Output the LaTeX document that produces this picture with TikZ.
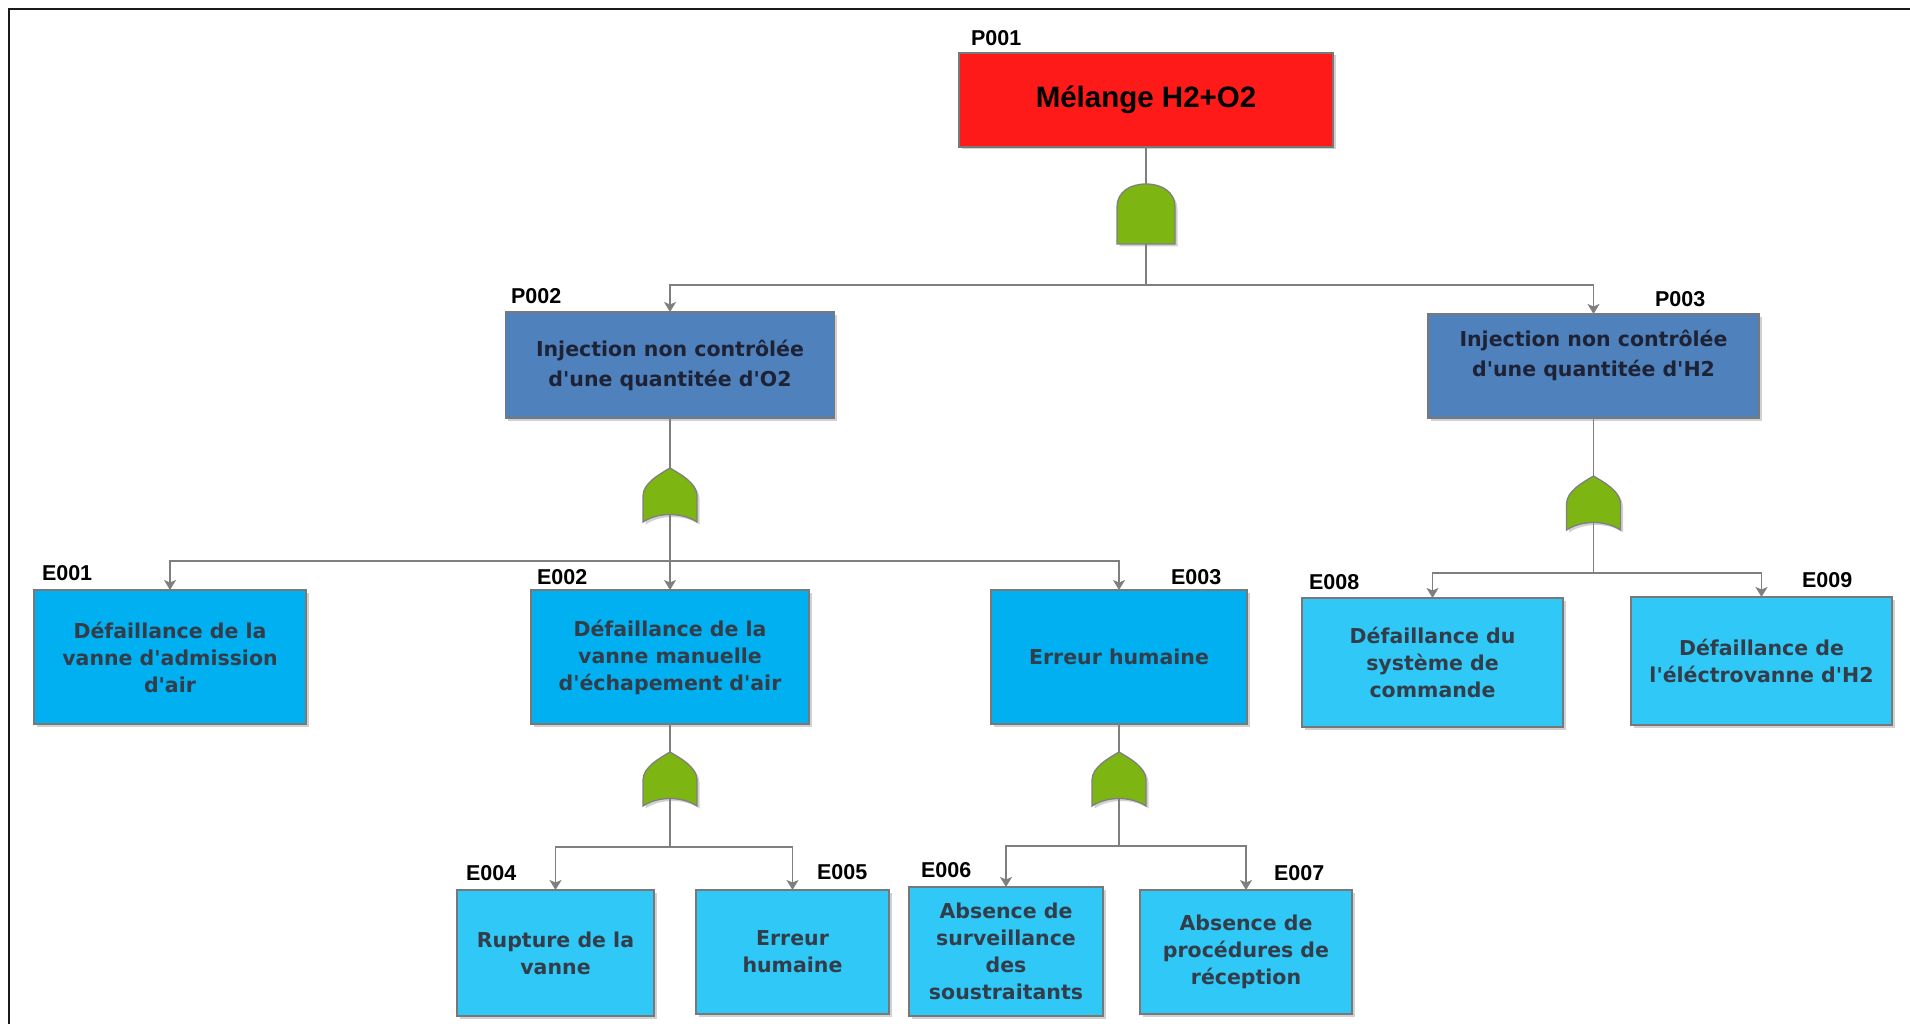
\documentclass[tikz,border=0pt]{standalone}
\usepackage{fontspec}
\usetikzlibrary{arrows.meta,shadows}

\newfontfamily\boxfont{DejaVu Sans}
\newfontfamily\arialfont{Liberation Sans}

\definecolor{topred}{HTML}{FF1A1A}
\definecolor{midblue}{HTML}{4F81BD}
\definecolor{evtcyan}{HTML}{00B0F0}
\definecolor{baselight}{HTML}{30C8F6}
\definecolor{gategreen}{HTML}{7DB512}
\definecolor{wiregray}{HTML}{7F7F7F}
\definecolor{edgegray}{HTML}{787878}
\definecolor{ptext}{HTML}{1E2235}
\definecolor{etext}{HTML}{333D4A}
\definecolor{framedark}{HTML}{1A1A1A}

\tikzset{
  every node/.style={inner sep=0pt, outer sep=0pt},
  sz/.style 2 args={minimum width=#1pt, minimum height=#2pt},
  softshadow/.style={drop shadow={shadow xshift=2.5pt, shadow yshift=-2.5pt, opacity=0.18, fill=black}},
  fbox/.style={draw=edgegray, line width=1.4pt, align=center, softshadow},
  topbox/.style={fbox, fill=topred, text=black,
    font=\arialfont\bfseries\fontsize{29.5}{34}\selectfont},
  midbox/.style={fbox, fill=midblue},
  midtext/.style={align=center, text=ptext,
    font=\boxfont\bfseries\fontsize{20.5}{30}\selectfont},
  evtbox/.style={fbox, fill=evtcyan, text=etext,
    font=\boxfont\bfseries\fontsize{20.5}{27}\selectfont},
  basebox/.style={evtbox, fill=baselight},
  tag/.style={anchor=west, text=black,
    font=\arialfont\bfseries\fontsize{21.5}{24}\selectfont},
  wire/.style={draw=wiregray, line width=1.6pt},
  feed/.style={wire, -{Stealth[length=10pt, width=12pt, inset=2.5pt]}},
  gatebody/.style={fill=gategreen, draw=wiregray, line width=1.3pt, softshadow},
  % OR gate: pointed top, straight flanks, concave base
  orgate/.pic={
    \path[gatebody] (0,0) .. controls (-10,6) and (-27,15) .. (-27,28)
      -- (-27,54) .. controls (-12,44) and (12,44) .. (27,54)
      -- (27,28) .. controls (27,15) and (10,6) .. (0,0) -- cycle;
    \coordinate (-top) at (0,0);
    \coordinate (-bot) at (0,46.5);
  },
  % AND gate: rounded dome on a flat base
  andgate/.pic={
    \path[gatebody] (-29,60) -- (-29,23) .. controls (-29,8) and (-16,0) .. (0,0)
      .. controls (16,0) and (29,8) .. (29,23) -- (29,60) -- cycle;
    \coordinate (-top) at (0,0);
    \coordinate (-bot) at (0,60);
  },
}

\begin{document}
\begin{tikzpicture}[x=1pt, y=-1pt]
\useasboundingbox (0,0) rectangle (1910,1024);
\fill[white] (0,0) rectangle (1910,1024);

% outer frame (top and left edges)
\draw[framedark, line width=2.6pt] (9,1030) -- (9,9) -- (1915,9);

% top event
\node[topbox, sz={374}{94}] (P001) at (1146,100) {Mélange H2+O2};

% intermediate events
\node[midbox, sz={329}{106}] (P002) at (670,365) {};
\node[midtext] (P002txt) at (670,365) {Injection non contrôlée\\d'une quantitée d'O2};
\node[midbox, sz={331}{104}] (P003) at (1593.5,366) {};
\node[midtext] (P003txt) at (1593.5,355) {Injection non contrôlée\\d'une quantitée d'H2};

% second level events
\node[evtbox, sz={272}{134}] (E001) at (170,657) {Défaillance de la\\vanne d'admission\\d'air};
\node[evtbox, sz={278}{134}] (E002) at (670,657) {Défaillance de la\\vanne manuelle\\d'échapement d'air};
\node[evtbox, sz={256}{134}] (E003) at (1119,657) {Erreur humaine};
\node[basebox, sz={261}{129}] (E008) at (1432.5,662.5) {Défaillance du\\système de\\commande};
\node[basebox, sz={261}{128}] (E009) at (1761.5,661) {Défaillance de\\l'éléctrovanne d'H2};

% basic events
\node[basebox, sz={197}{126}] (E004) at (555.5,953) {Rupture de la\\vanne};
\node[basebox, sz={193}{124}] (E005) at (792.5,952) {Erreur\\humaine};
\node[basebox, sz={194}{129}] (E006) at (1006,951.5) {Absence de\\surveillance\\des\\soustraitants};
\node[basebox, sz={212}{124}] (E007) at (1246,952) {Absence de\\procédures de\\réception};

% identifiers
\node[tag] (tP001) at (971,38) {P001};
\node[tag] (tP002) at (511,296) {P002};
\node[tag] (tP003) at (1655,299) {P003};
\node[tag] (tE001) at (42,573) {E001};
\node[tag] (tE002) at (537,577) {E002};
\node[tag] (tE003) at (1171,577) {E003};
\node[tag] (tE004) at (466,873) {E004};
\node[tag] (tE005) at (817,872) {E005};
\node[tag] (tE006) at (921,870) {E006};
\node[tag] (tE007) at (1274,873) {E007};
\node[tag] (tE008) at (1309,582) {E008};
\node[tag] (tE009) at (1802,580) {E009};

% gate anchor points
\coordinate (g1) at (1146,184);
\coordinate (g2) at (670,468);
\coordinate (g3) at (1593.5,476);
\coordinate (g4) at (670,752);
\coordinate (g5) at (1119,752);

% branching points
\coordinate (j1) at (1146,285);
\coordinate (j2) at (670,561);
\coordinate (j3) at (1593.5,573);
\coordinate (j4) at (670,847);
\coordinate (j5) at (1119,846);

% connectors
\draw[wire] (P001.south) -- (g1) -- (j1);
\draw[feed] (j1) -| (P002.north);
\draw[feed] (j1) -| (P003.north);

\draw[wire] (P002.south) -- (g2) -- (j2);
\draw[feed] (j2) -| (E001.north);
\draw[feed] (j2) -- (E002.north);
\draw[feed] (j2) -| (E003.north);

\draw[wire] (P003.south) -- (g3) -- (j3);
\draw[feed] (j3) -| (E008.north);
\draw[feed] (j3) -| (E009.north);

\draw[wire] (E002.south) -- (g4) -- (j4);
\draw[feed] (j4) -| (E004.north);
\draw[feed] (j4) -| (E005.north);

\draw[wire] (E003.south) -- (g5) -- (j5);
\draw[feed] (j5) -| (E006.north);
\draw[feed] (j5) -| (E007.north);

% gates
\pic (G1) at (g1) {andgate};
\pic (G2) at (g2) {orgate};
\pic (G3) at (g3) {orgate};
\pic (G4) at (g4) {orgate};
\pic (G5) at (g5) {orgate};
\draw[wire] (G1-bot) -- (j1);
\draw[wire] (G2-bot) -- (j2);
\draw[wire] (G3-bot) -- (j3);
\draw[wire] (G4-bot) -- (j4);
\draw[wire] (G5-bot) -- (j5);
\end{tikzpicture}
\end{document}
